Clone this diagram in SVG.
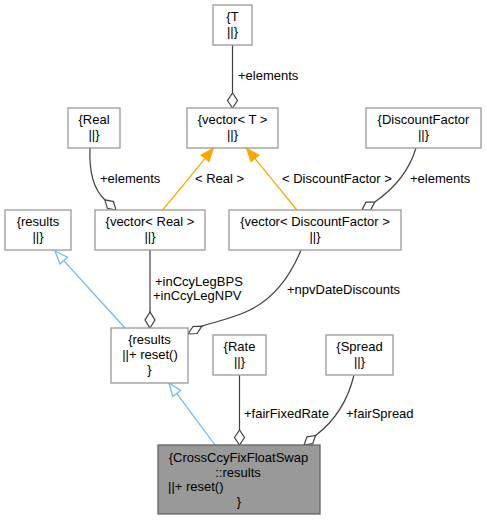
<svg xmlns="http://www.w3.org/2000/svg" width="486" height="520" viewBox="0 0 486 520">
<style>
.n rect{fill:#ffffff;stroke:#999999;stroke-width:1.3}
.hl rect{fill:#999999;stroke:#666666;stroke-width:1.3}
text{font-family:"Liberation Sans",Arial,sans-serif;font-size:13px;fill:#000000}
.c{text-anchor:middle}
.u{fill:none;stroke:#404040;stroke-width:1.2}
.ud{fill:#ffffff;stroke:#404040;stroke-width:1.2}
.i{fill:none;stroke:#63b8ff;stroke-width:1.2}
.ih{fill:#ffffff;stroke:#63b8ff;stroke-width:1.2}
.t{fill:none;stroke:#ffa500;stroke-width:1.2}
.th{fill:#ffa500;stroke:#ffa500;stroke-width:1.2}
</style>
<rect x="0" y="0" width="486" height="520" fill="#ffffff"/>
<g id="connectors">
  <!-- T -> vector<T> -->
  <path class="u" d="M232.5,45 L232.5,93"/>
  <polygon class="ud" points="232.5,108 237.5,100.5 232.5,93 227.5,100.5"/>
  <text x="238" y="79.5">+elements</text>
  <!-- Real -> vector<Real> -->
  <path class="u" d="M90,148 C89,170 92,188 105,200"/>
  <polygon class="ud" points="116,210 113.5,201.6 104.9,199.9 107.4,208.3"/>
  <text x="100" y="183">+elements</text>
  <!-- vector<Real> -> vector<T> -->
  <path class="t" d="M162.3,210.5 L205.1,158.4"/>
  <polygon class="th" points="213.3,148.3 209,161.6 201.2,155.2"/>
  <text x="195" y="183">&lt; Real &gt;</text>
  <!-- vector<DF> -> vector<T> -->
  <path class="t" d="M297.3,210.5 L254.9,158.4"/>
  <polygon class="th" points="246.7,148.3 258.8,155.3 251,161.6"/>
  <text x="282" y="183">&lt; DiscountFactor &gt;</text>
  <!-- DiscountFactor -> vector<DF> -->
  <path class="u" d="M416,148 C410,168 398,186 374.7,202"/>
  <polygon class="ud" points="362,210 370.7,209.8 374.7,202 365.9,202.2"/>
  <text x="410" y="183">+elements</text>
  <!-- results(M) -> results(L) -->
  <path class="i" d="M125,328 L63.75,260.6"/>
  <polygon class="ih" points="55,251 67.45,257.25 60.05,263.97"/>
  <!-- vector<Real> -> results(M) -->
  <path class="u" d="M150,250 L150,312"/>
  <polygon class="ud" points="150,328 155,320 150,312 145,320"/>
  <text x="155" y="285.5">+inCcyLegBPS</text>
  <text x="153" y="300">+inCcyLegNPV</text>
  <!-- vector<DF> -> results(M) -->
  <path class="u" d="M301,250 C292,272 278,296 250,310 C234,318 218,321 201.9,326.1"/>
  <polygon class="ud" points="188,334 197,333.5 201.9,326.1 193,326.5"/>
  <text x="287" y="293.5">+npvDateDiscounts</text>
  <!-- CrossCcy -> results(M) -->
  <path class="i" d="M215,445 L176.7,393.4"/>
  <polygon class="ih" points="169,383 180.7,390.4 172.7,396.4"/>
  <!-- Rate -> CrossCcy -->
  <path class="u" d="M239.5,375 L239.5,430"/>
  <polygon class="ud" points="239.5,445 244.5,437.5 239.5,430 234.5,437.5"/>
  <text x="244" y="417.5">+fairFixedRate</text>
  <!-- Spread -> CrossCcy -->
  <path class="u" d="M354,375 C348,400 336,420 315.6,435.5"/>
  <polygon class="ud" points="304,445 312.7,443.7 315.6,435.5 307,436.8"/>
  <text x="346" y="417.5">+fairSpread</text>
</g>
<g id="node_T" class="n">
  <rect x="213" y="5" width="39" height="40"/>
  <text class="c" x="232.5" y="20.5">{T</text>
  <text class="c" x="232.5" y="35.5">||}</text>
</g>
<g id="node_vectorT" class="n">
  <rect x="187" y="108" width="91" height="40"/>
  <text class="c" x="232.5" y="124">{vector&lt; T &gt;</text>
  <text class="c" x="232.5" y="139">||}</text>
</g>
<g id="node_Real" class="n">
  <rect x="68" y="108" width="52" height="40"/>
  <text class="c" x="94" y="124">{Real</text>
  <text class="c" x="94" y="139">||}</text>
</g>
<g id="node_DiscountFactor" class="n">
  <rect x="366" y="108" width="115" height="40"/>
  <text class="c" x="423.5" y="124">{DiscountFactor</text>
  <text class="c" x="423.5" y="139">||}</text>
</g>
<g id="node_resultsBase" class="n">
  <rect x="5" y="210" width="66" height="40"/>
  <text class="c" x="38" y="226">{results</text>
  <text class="c" x="38" y="241">||}</text>
</g>
<g id="node_vectorReal" class="n">
  <rect x="95" y="210" width="110" height="40"/>
  <text class="c" x="150" y="226">{vector&lt; Real &gt;</text>
  <text class="c" x="150" y="241">||}</text>
</g>
<g id="node_vectorDiscountFactor" class="n">
  <rect x="229" y="210" width="172" height="40"/>
  <text class="c" x="315" y="226">{vector&lt; DiscountFactor &gt;</text>
  <text class="c" x="315" y="241">||}</text>
</g>
<g id="node_results" class="n">
  <rect x="111" y="328" width="77" height="55"/>
  <text class="c" x="149.5" y="344">{results</text>
  <text class="c" x="150" y="359">||+ reset()</text>
  <text class="c" x="149.5" y="374">}</text>
</g>
<g id="node_Rate" class="n">
  <rect x="213" y="335" width="53" height="40"/>
  <text class="c" x="239.5" y="351">{Rate</text>
  <text class="c" x="239.5" y="366">||}</text>
</g>
<g id="node_Spread" class="n">
  <rect x="326" y="335" width="67" height="40"/>
  <text class="c" x="359.5" y="351">{Spread</text>
  <text class="c" x="359.5" y="366">||}</text>
</g>
<g id="node_CrossCcyFixFloatSwap_results" class="hl">
  <rect x="158" y="445" width="162" height="69"/>
  <text class="c" x="238.5" y="462">{CrossCcyFixFloatSwap</text>
  <text class="c" x="238" y="476.5">::results</text>
  <text x="168" y="491">||+ reset()</text>
  <text class="c" x="239" y="505.5">}</text>
</g>
</svg>
